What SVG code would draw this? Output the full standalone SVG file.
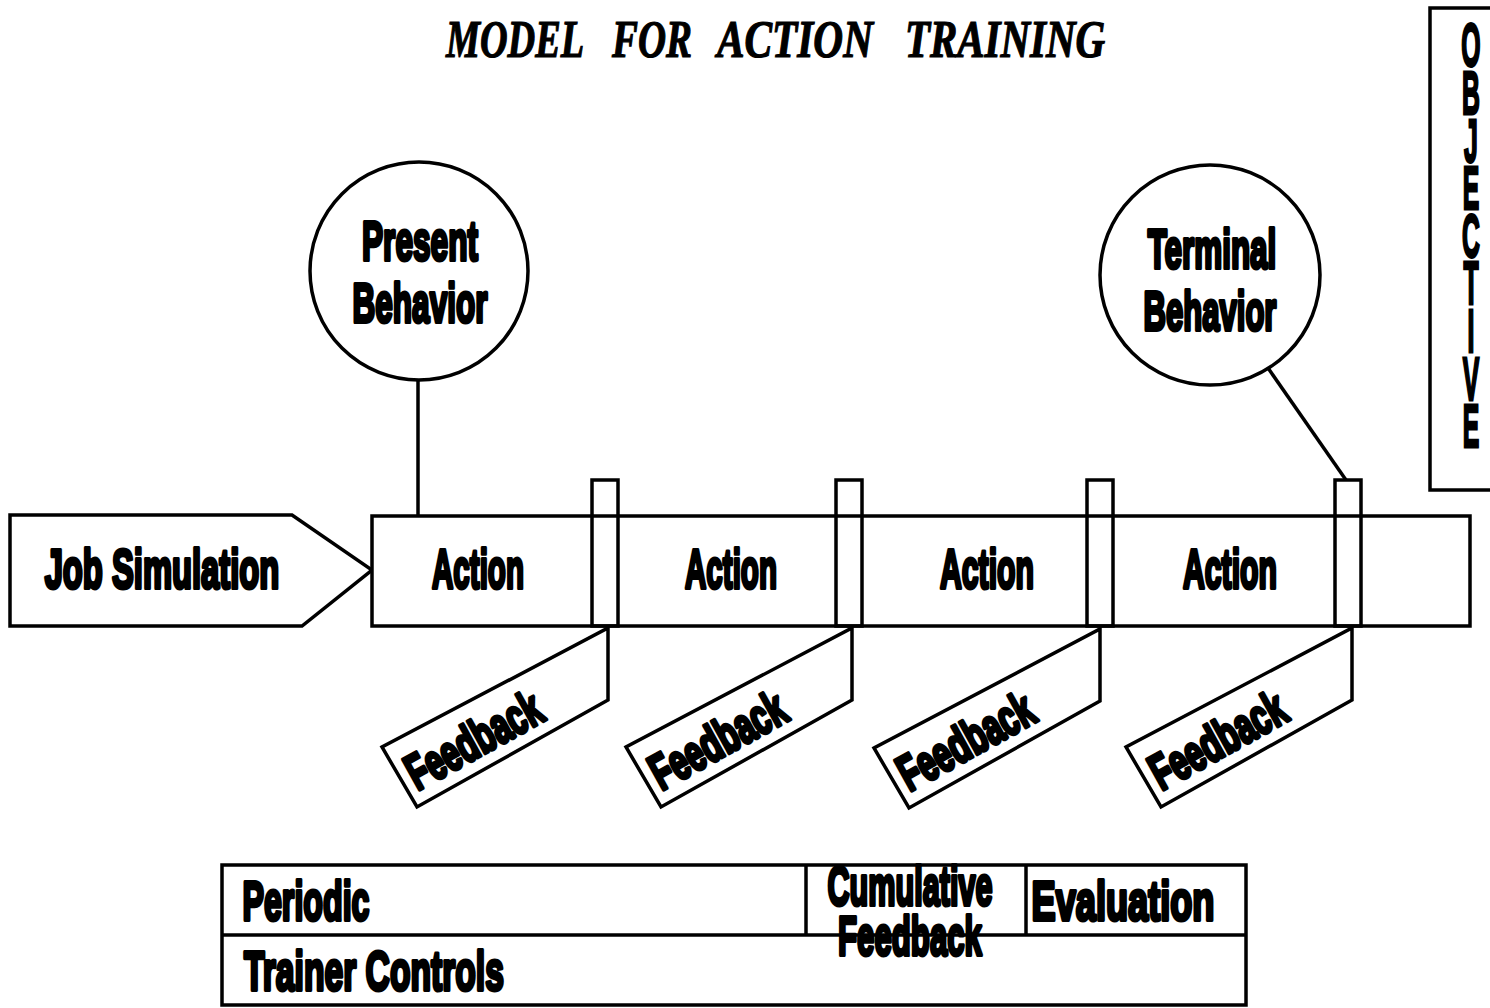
<svg xmlns="http://www.w3.org/2000/svg" width="1490" height="1008" viewBox="0 0 1490 1008">
  <style>
    .ln { fill: none; stroke: #000; stroke-width: 3.5; stroke-linejoin: miter; }
    .box { fill: #fff; stroke: #000; stroke-width: 3.5; }
    .lbl { font-family: "Liberation Sans", "DejaVu Sans", sans-serif; font-weight: bold; font-size: 56px; fill: #000; stroke: #000; stroke-width: 4; stroke-linejoin: round; text-anchor: middle; }
    .tag { font-family: "Liberation Sans", "DejaVu Sans", sans-serif; font-weight: bold; font-size: 50px; fill: #000; stroke: #000; stroke-width: 4; stroke-linejoin: round; text-anchor: middle; }
    .title { font-family: "Liberation Serif", "DejaVu Serif", serif; font-weight: bold; font-style: italic; font-size: 52px; fill: #000; stroke: #000; stroke-width: 1.2; }
    .obj { font-family: "Liberation Sans", "DejaVu Sans", sans-serif; font-weight: bold; font-size: 62px; fill: #000; stroke: #000; stroke-width: 3;
           writing-mode: vertical-rl; text-orientation: upright; letter-spacing: -22px; }
  </style>
  <rect width="1490" height="1008" fill="#fff"/>

  <!-- heading, one word at a time -->
  <g id="heading">
    <text class="title" transform="translate(446,57) scale(0.735,1)">MODEL</text>
    <text class="title" transform="translate(612,57) scale(0.748,1)">FOR</text>
    <text class="title" transform="translate(717,57) scale(0.794,1)">ACTION</text>
    <text class="title" transform="translate(905,57) scale(0.787,1)">TRAINING</text>
  </g>

  <!-- objective side panel -->
  <g id="objective">
    <rect class="box" x="1430" y="8" width="80" height="482"/>
    <g transform="translate(1471,0) scale(0.4,1)">
      <text class="obj" x="0" y="10">OBJECTIVE</text>
    </g>
  </g>

  <!-- connectors -->
  <g id="connectors">
    <line class="ln" x1="418" y1="380" x2="418" y2="516"/>
    <line class="ln" x1="1268" y1="368" x2="1346" y2="480"/>
  </g>

  <g id="present-behavior">
    <circle class="box" cx="419" cy="271" r="109"/>
    <text class="lbl" transform="translate(420,260) scale(0.565,1)">Present</text>
    <text class="lbl" transform="translate(420,322) scale(0.563,1)">Behavior</text>
  </g>

  <g id="terminal-behavior">
    <circle class="box" cx="1210" cy="275" r="110"/>
    <text class="lbl" transform="translate(1212,268) scale(0.561,1)">Terminal</text>
    <text class="lbl" transform="translate(1210,330) scale(0.555,1)">Behavior</text>
  </g>

  <g id="job-simulation">
    <path class="box" d="M10,515 L292,515 L372,570 L302,626 L10,626 Z"/>
    <text class="lbl" transform="translate(162,588) scale(0.585,1)">Job Simulation</text>
  </g>

  <!-- action strip with feedback tabs -->
  <g id="action-strip">
    <rect class="box" x="372" y="516" width="1098" height="110"/>
    <rect class="ln" x="592" y="480" width="26" height="146"/>
    <rect class="ln" x="836" y="480" width="26" height="146"/>
    <rect class="ln" x="1087" y="480" width="26" height="146"/>
    <rect class="ln" x="1335" y="480" width="26" height="146"/>
  </g>
  <g id="action-1"><text class="lbl" transform="translate(478,588) scale(0.528,1)">Action</text></g>
  <g id="action-2"><text class="lbl" transform="translate(731,588) scale(0.528,1)">Action</text></g>
  <g id="action-3"><text class="lbl" transform="translate(987,588) scale(0.54,1)">Action</text></g>
  <g id="action-4"><text class="lbl" transform="translate(1230,588) scale(0.54,1)">Action</text></g>

  <!-- feedback tags hanging below each tab -->
  <g id="feedback-1">
    <path class="box" d="M608,628 L608,700 L417,807 L382,747 Z"/>
    <text class="tag" transform="translate(482,755) rotate(-29) scale(0.642,1)">Feedback</text>
  </g>
  <g id="feedback-2" transform="translate(244,0)">
    <path class="box" d="M608,628 L608,700 L417,807 L382,747 Z"/>
    <text class="tag" transform="translate(482,755) rotate(-29) scale(0.642,1)">Feedback</text>
  </g>
  <g id="feedback-3" transform="translate(492,1)">
    <path class="box" d="M608,628 L608,700 L417,807 L382,747 Z"/>
    <text class="tag" transform="translate(482,755) rotate(-29) scale(0.642,1)">Feedback</text>
  </g>
  <g id="feedback-4" transform="translate(744,0)">
    <path class="box" d="M608,628 L608,700 L417,807 L382,747 Z"/>
    <text class="tag" transform="translate(482,755) rotate(-29) scale(0.642,1)">Feedback</text>
  </g>

  <!-- trainer controls table -->
  <g id="trainer-controls">
    <rect class="box" x="222" y="865" width="1024" height="140"/>
    <line class="ln" x1="222" y1="935" x2="1246" y2="935"/>
    <line class="ln" x1="806" y1="865" x2="806" y2="935"/>
    <line class="ln" x1="1026" y1="865" x2="1026" y2="935"/>
    <text class="lbl" transform="translate(306,920) scale(0.575,1)">Periodic</text>
    <text class="lbl" transform="translate(374,990) scale(0.601,1)">Trainer Controls</text>
    <text class="lbl" transform="translate(910,905) scale(0.547,1)">Cumulative</text>
    <text class="lbl" transform="translate(910,955) scale(0.557,1)">Feedback</text>
    <text class="lbl" transform="translate(1123,920) scale(0.646,1)">Evaluation</text>
  </g>
</svg>
